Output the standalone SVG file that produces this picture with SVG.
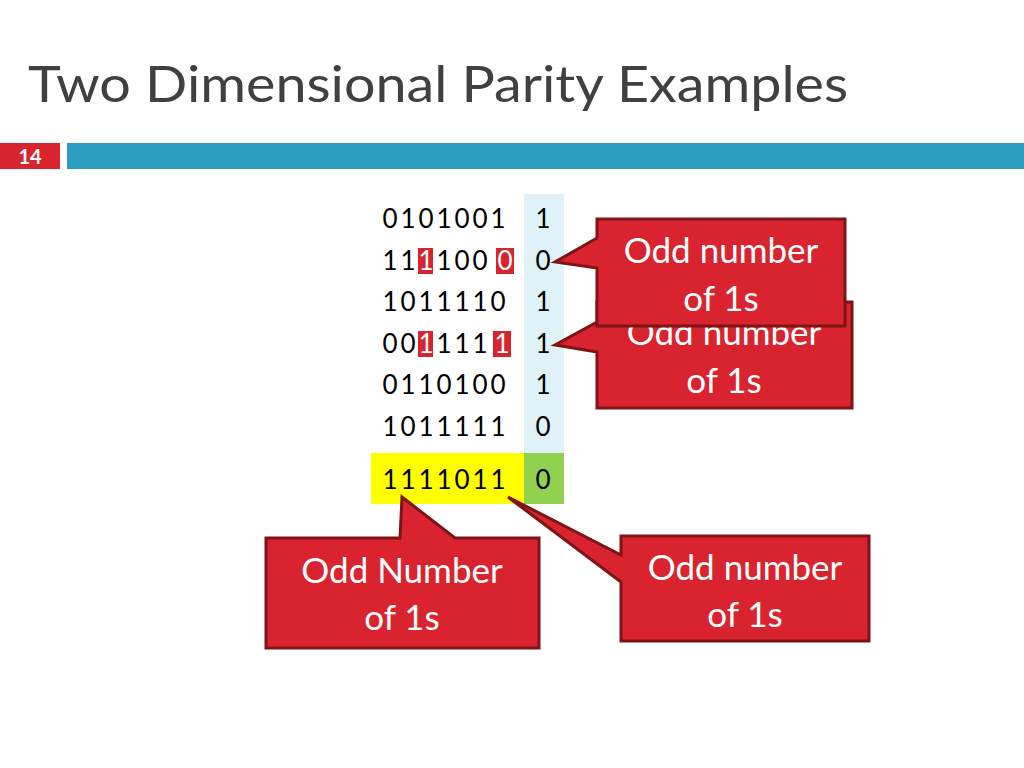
<svg xmlns="http://www.w3.org/2000/svg" width="1024" height="768" viewBox="0 0 1024 768">
<style>
.t{font-family:"Lato","Liberation Sans",sans-serif;}
.d{font-family:"Lato","Liberation Sans",sans-serif;font-size:26px;fill:#000;text-anchor:middle}
.w{fill:#fff}
.c{fill:#d9232e;stroke:#7f1416;stroke-width:3;stroke-linejoin:miter}
.ct{font-family:"Lato","Liberation Sans",sans-serif;font-size:35px;fill:#fff;text-anchor:middle}
.hl{fill:#d9232e}
</style>
<rect width="1024" height="768" fill="#fff"/>
<text class="t" x="28" y="102" font-size="50" fill="#404040" textLength="820" lengthAdjust="spacingAndGlyphs">Two Dimensional Parity Examples</text>
<rect x="0" y="143" width="60" height="26" fill="#d9232e"/>
<text class="t" x="30" y="164" font-size="20" font-weight="bold" fill="#fff" text-anchor="middle">14</text>
<rect x="67" y="143" width="957" height="26" fill="#2c9fc0"/>
<g id="matrix">
<rect x="524" y="194" width="40" height="260" fill="#dff2f8"/>
<rect x="371" y="453" width="153" height="51" fill="#ffff00"/>
<rect x="524" y="453" width="40" height="51" fill="#92d050"/>
<rect class="hl" x="418" y="248" width="15" height="26"/>
<rect class="hl" x="496" y="248" width="18" height="26"/>
<rect class="hl" x="418" y="331" width="15" height="26"/>
<rect class="hl" x="493" y="331" width="18" height="26"/>
<text class="d" x="390 408 426 444 462 480 498" y="228">0101001</text>
<text class="d" y="270"><tspan x="390">1</tspan><tspan x="408">1</tspan><tspan x="426" class="w">1</tspan><tspan x="444">1</tspan><tspan x="462">0</tspan><tspan x="480">0</tspan><tspan x="505" class="w">0</tspan></text>
<text class="d" x="390 408 426 444 462 480 498" y="311">1011110</text>
<text class="d" y="353"><tspan x="390">0</tspan><tspan x="408">0</tspan><tspan x="426" class="w">1</tspan><tspan x="444">1</tspan><tspan x="462">1</tspan><tspan x="480">1</tspan><tspan x="502" class="w">1</tspan></text>
<text class="d" x="390 408 426 444 462 480 498" y="394">0110100</text>
<text class="d" x="390 408 426 444 462 480 498" y="436">1011111</text>
<text class="d" x="390 408 426 444 462 480 498" y="489">1111011</text>
<text class="d" x="543" y="228">1</text>
<text class="d" x="543" y="270">0</text>
<text class="d" x="543" y="311">1</text>
<text class="d" x="543" y="353">1</text>
<text class="d" x="543" y="394">1</text>
<text class="d" x="543" y="436">0</text>
<text class="d" x="543" y="489">0</text>
</g>
<g id="callout2">
<path class="c" d="M597,302 H852 V408 H597 V352 L555,345 L597,322 Z"/>
<text class="ct" x="724" y="345">Odd number</text>
<text class="ct" x="724" y="393">of 1s</text>
</g>
<g id="callout1">
<path class="c" d="M597,219 H845 V326 H597 V268 L555,262 L597,238 Z"/>
<text class="ct" x="721" y="263">Odd number</text>
<text class="ct" x="721" y="311">of 1s</text>
</g>
<g id="callout3">
<path class="c" d="M266,538 H400 L402,497 L455,538 H539 V648 H266 Z"/>
<text class="ct" x="402" y="583">Odd Number</text>
<text class="ct" x="402" y="630">of 1s</text>
</g>
<g id="callout4">
<path class="c" d="M621,536 H869 V641 H621 V582 L508,497 L621,555 Z"/>
<text class="ct" x="745" y="580">Odd number</text>
<text class="ct" x="745" y="627">of 1s</text>
</g>
</svg>
